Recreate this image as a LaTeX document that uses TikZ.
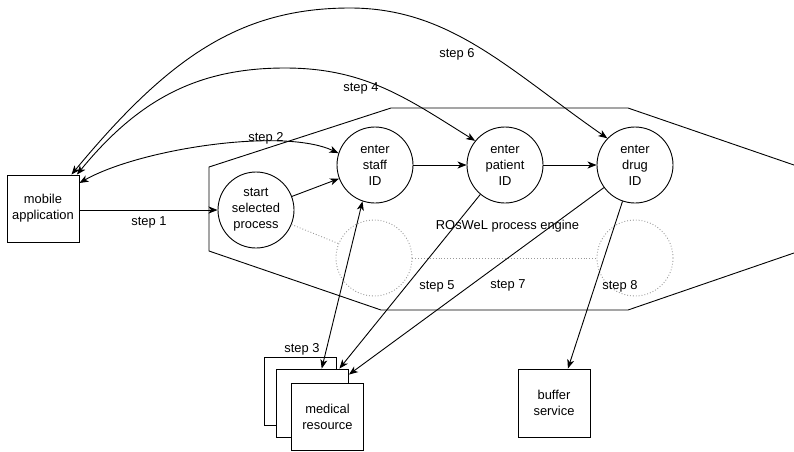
\documentclass[tikz,border=0pt]{standalone}
\usepackage{fontspec}
\setmainfont{Liberation Sans}
\usetikzlibrary{arrows.meta}
\begin{document}
\begin{tikzpicture}[x=1pt,y=-1pt,
  every node/.style={font=\fontsize{12.9}{16}\selectfont},
  stage/.style={circle,draw,line width=0.9pt,minimum size=76pt,inner sep=0pt,align=center,fill=white},
  ghost/.style={circle,draw=gray!80,dotted,line width=0.9pt,minimum size=76pt,inner sep=0pt},
  actor/.style={rectangle,draw,line width=0.9pt,minimum width=72pt,minimum height=67pt,inner sep=0pt,align=center,fill=white},
  tip/.tip={Stealth[length=9pt,width=7pt,inset=2.5pt]},
  flow/.style={line width=0.9pt,-tip},
  twoway/.style={line width=0.9pt,tip-tip},
  hint/.style={draw=gray!80,dotted,line width=0.9pt},
  lbl/.style={inner sep=0pt}
]
\useasboundingbox (0,0) rectangle (794,451);
\clip (0,0) rectangle (794,451);

% process engine outline (its right tip runs past the frame)
\draw[line width=0.9pt] (209,167) -- (391,108) -- (628,108) -- (922,209)
  -- (628,310) -- (381,310) -- (209,251) -- cycle;
\node[lbl] (engine) at (507.5,226) {ROsWeL process engine};

% nodes
\node[actor] (mob) at (43,208.5) {mobile\\application};
\node[stage] (start) at (256,210) {start\\selected\\process};
\node[stage] (staff) at (375,165) {enter\\staff\\ID};
\node[stage] (patient) at (505,165) {enter\\patient\\ID};
\node[stage] (drug) at (635,165) {enter\\drug\\ID};
\node[ghost] (g1) at (374,258) {};
\node[ghost] (g2) at (635,258) {};

% stacked medical resources
\node[actor,minimum height=68pt] (medA) at (300.5,391) {};
\node[actor,minimum height=68pt] (med) at (312.5,403) {};
\node[actor] (medC) at (327.5,416.5) {medical\\resource};
\node[actor,minimum height=68pt] (buf) at (554,403) {buffer\\service};

% dotted hints
\draw[hint] (start) -- (g1);
\draw[hint] (g1) -- (g2);

% main flow
\draw[flow] (start.west -| mob.east) -- (start.west);
\draw[flow] (start) -- (staff);
\draw[flow] (staff) -- (patient);
\draw[flow] (patient) -- (drug);

% crests of the long arcs
\coordinate (top4) at (285,68);
\coordinate (top6) at (350,8);

% exchanges with the mobile application
\draw[twoway] (mob.35) .. controls +(60,-34) and +(-56,-26) .. (staff.162);
\draw[twoway] (mob.45) .. controls +(63,-77) and +(-85,0) .. (top4)
  .. controls +(80,0) and +(-68,-42.4) .. (patient.141);
\draw[twoway] (mob.50) .. controls +(97,-117) and +(-110,0) .. (top6)
  .. controls +(100,0) and +(-98.4,-68.4) .. (drug.136);

% resource calls
\draw[twoway] (staff.251) -- (med.75);
\draw[flow] (patient.230) -- (med.52);
\draw[flow] (drug.216) -- (med.38);
\draw[flow] (drug.251) -- (buf.68);

% step labels
\node[lbl] (s1) at (149,222) {step 1};
\node[lbl] (s2) at (266,138) {step 2};
\node[lbl] (s3) at (302,349) {step 3};
\node[lbl] (s4) at (361,88) {step 4};
\node[lbl] (s5) at (437,286) {step 5};
\node[lbl] (s6) at (457,54) {step 6};
\node[lbl] (s7) at (508,285) {step 7};
\node[lbl] (s8) at (620,286) {step 8};
\end{tikzpicture}
\end{document}
